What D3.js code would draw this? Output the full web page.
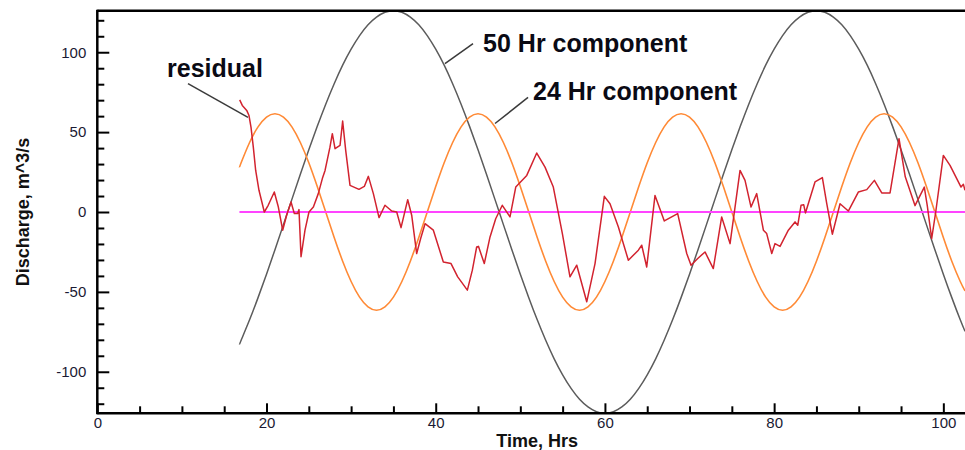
<!DOCTYPE html>
<html>
<head>
<meta charset="utf-8">
<script src="https://cdn.jsdelivr.net/npm/d3@7"></script>
<style>
  body { margin: 0; background: #fff; }
  text { font-family: "Liberation Sans", Arial, sans-serif; }
</style>
</head>
<body>
<svg id="chart" width="965" height="450"></svg>
<script>
// time axis of the two harmonic components (hours)
const hours = [16.8, 17, 18, 19, 20, 21, 22, 23, 24, 25, 26, 27, 28, 29, 30, 31, 32, 33, 34, 35,
  36, 37, 38, 39, 40, 41, 42, 43, 44, 45, 46, 47, 48, 49, 50, 51, 52, 53, 54, 55, 56, 57, 58, 59, 60,
  61, 62, 63, 64, 65, 66, 67, 68, 69, 70, 71, 72, 73, 74, 75, 76, 77, 78, 79, 80, 81, 82, 83, 84, 85,
  86, 87, 88, 89, 90, 91, 92, 93, 94, 95, 96, 97, 98, 99, 100, 101, 102, 102.56];

const comp50 = [-83, -80.3, -67.5, -53.6, -38.9, -23.6, -7.9, 7.9, 23.6, 38.9, 53.6, 67.5, 80.3, 91.9, 101.9, 110.4, 117.2, 122.0, 125.0, 126,
  125.0, 122.0, 117.2, 110.4, 101.9, 91.9, 80.3, 67.5, 53.6, 38.9, 23.6, 7.9, -7.9, -23.6, -38.9, -53.6, -67.5, -80.3, -91.9, -101.9, -110.4, -117.2, -122.0, -125.0, -126,
  -125.0, -122.0, -117.2, -110.4, -101.9, -91.9, -80.3, -67.5, -53.6, -38.9, -23.6, -7.9, 7.9, 23.6, 38.9, 53.6, 67.5, 80.3, 91.9, 101.9, 110.4, 117.2, 122.0, 125.0, 126,
  125.0, 122.0, 117.2, 110.4, 101.9, 91.9, 80.3, 67.5, 53.6, 38.9, 23.6, 7.9, -7.9, -23.6, -38.9, -53.6, -67.5,
  -74.7];

const comp24 = [27.9, 30.8, 43.5, 53.3, 59.4, 61.5,
  59.4, 53.3, 43.5, 30.8, 15.9, 0, -15.9, -30.8, -43.5, -53.3, -59.4, -61.5, -59.4, -53.3, -43.5, -30.8, -15.9, 0, 15.9, 30.8, 43.5, 53.3, 59.4, 61.5,
  59.4, 53.3, 43.5, 30.8, 15.9, 0, -15.9, -30.8, -43.5, -53.3, -59.4, -61.5, -59.4, -53.3, -43.5, -30.8, -15.9, 0, 15.9, 30.8, 43.5, 53.3, 59.4, 61.5,
  59.4, 53.3, 43.5, 30.8, 15.9, 0, -15.9, -30.8, -43.5, -53.3, -59.4, -61.5, -59.4, -53.3, -43.5, -30.8, -15.9, 0, 15.9, 30.8, 43.5, 53.3, 59.4, 61.5,
  59.4, 53.3, 43.5, 30.8, 15.9, 0, -15.9, -30.8, -43.5,
  -49.4];

// residual discharge
const residualT = [16.83, 17.14, 17.66, 17.93, 18.17, 18.44, 18.72, 19.11, 19.74, 20.2, 20.92, 21.4, 21.91, 22.38, 22.9,
  23.29, 23.68, 23.84, 24.08, 24.55, 25.02, 25.54, 26.12, 26.6, 26.92, 27.5, 27.78, 28.1, 28.69, 29.0, 29.36, 29.87,
  30.93, 31.56, 32.04, 32.63, 33.3, 34.0, 34.8, 35.39, 35.9, 36.69, 37.16, 37.75, 38.22, 38.74, 39.72, 40.9, 41.81,
  42.6, 43.74, 44.33, 44.84, 45.05, 45.74, 46.42, 47.09, 47.87, 48.78, 49.46, 50.76, 51.94, 52.92, 53.9, 54.97, 55.87,
  56.67, 57.85, 58.83, 59.93, 60.6, 61.59, 62.77, 63.95, 64.35, 64.94, 65.92, 67.02, 68.6, 69.67, 70.18, 70.97, 71.83,
  72.81, 73.8, 74.79, 75.97, 76.56, 77.27, 77.94, 78.73, 79.12, 79.72, 80.1, 80.7, 81.68, 82.47, 82.79, 83.18, 83.5,
  83.7, 84.83, 85.7, 86.22, 86.88, 87.79, 88.77, 89.95, 90.95, 91.85, 92.72, 93.7, 94.76, 95.5, 96.65, 97.75, 98.1,
  98.62, 99.1, 100.0, 100.79, 102.09, 102.37, 102.56];
const residualV = [70.2, 66.7, 63.6, 60.4, 53, 40.6, 26, 13.6, 0, 4.2, 12.5, 3.1, -11.4, -2, 6.3,
  -1, -1, 1.5, -28, -11.4, 0, 3.1, 11.5, 20.9, 26, 40.6, 49, 39.6, 41.7, 56.9, 38.6, 16.7,
  14.2, 16, 22.3, 11.5, -3.5, 4.2, 0.6, 0, -9.8, 7.7, -2, -26, -16.6, -7.3, -11.4, -31.3, -32.3,
  -40.6, -48.9, -36.4, -21.9, -21.5, -32.3, -15.6, -4.2, 4.2, -3.1, 15.6, 22.9, 36.9, 28.1, 15.6, -13.5, -40.6,
  -33.3, -56.2, -32.3, 9.8, 5.2, -9.4, -30.2, -23.9, -20.8, -34.4, 10.4, -5.6, -1, -26, -33.3, -29.1, -25,
  -35.4, -3.1, -19.8, 26, 19.8, 3.1, 11.5, -11.4, -13.5, -26, -19.8, -21.5, -11.4, -6.2, -8.3, 4.2, 4.5,
  -0.6, 18.8, 21.5, 5.2, -13.9, 5.2, 0.6, 12.5, 14, 19.8, 11.9, 11.9, 45.9, 22, 4, 15.6, 4,
  -16.6, 0, 35.4, 29.2, 15.6, 17.3, 13.6];

// zero reference line
const meanT = [16.8, 102.56];
const meanV = [0, 0];

// ticks
const xMajor = [0, 20, 40, 60, 80, 100];
const xMinor = [5, 10, 15, 25, 30, 35, 45, 50, 55, 65, 70, 75, 85, 90, 95];
const yMajor = [-100, -50, 0, 50, 100];
const yMinor = [-120, -110, -90, -80, -70, -60, -40, -30, -20, -10, 10, 20, 30, 40, 60, 70, 80, 90, 110, 120];

// annotations (data coordinates)
const labelText = ["residual", "50 Hr component", "24 Hr component"];
const labelT = [8.24, 45.6, 51.5];
const labelV = [84.8, 100.4, 70.3];
const leaderT0 = [10.72, 44.41, 50.91];
const leaderV0 = [80.4, 105.4, 71.7];
const leaderT1 = [17.81, 41.09, 47.01];
const leaderV1 = [59.2, 92.9, 55.4];

const svg = d3.select("#chart");
const plotLeft = 97.3, plotRight = 965, plotTop = 10.7, plotBottom = 413.3;

const x = d3.scaleLinear().domain([0, 102.56]).range([plotLeft, plotRight]);
const y = d3.scaleLinear().domain([-126, 126]).range([plotBottom, plotTop]);

svg.append("defs").append("clipPath").attr("id", "plotclip")
  .append("rect").attr("x", plotLeft).attr("y", plotTop)
  .attr("width", plotRight - plotLeft).attr("height", plotBottom - plotTop);

const plot = svg.append("g").attr("clip-path", "url(#plotclip)");

const smooth = d3.line().x(d => x(d[0])).y(d => y(d[1])).curve(d3.curveNatural);
const straight = d3.line().x(d => x(d[0])).y(d => y(d[1]));

plot.append("path")
  .datum(hours.map((h, i) => [h, comp50[i]]))
  .attr("fill", "none").attr("stroke", "#5c5c5c").attr("stroke-width", 1.5)
  .attr("d", smooth);

plot.append("path")
  .datum(hours.map((h, i) => [h, comp24[i]]))
  .attr("fill", "none").attr("stroke", "#ff8a36").attr("stroke-width", 1.6)
  .attr("d", smooth);

plot.append("path")
  .datum(meanT.map((t, i) => [t, meanV[i]]))
  .attr("fill", "none").attr("stroke", "#ff44ff").attr("stroke-width", 2)
  .attr("d", straight);

plot.append("path")
  .datum(residualT.map((t, i) => [t, residualV[i]]))
  .attr("fill", "none").attr("stroke", "#d2232f").attr("stroke-width", 1.5)
  .attr("stroke-linejoin", "round")
  .attr("d", straight);

// axes (plain hyphen minus, as in the original)
const fmt = d => String(d);
const yAxis = svg.append("g").attr("transform", `translate(${plotLeft},0)`);
yAxis.call(d3.axisLeft(y).tickValues(yMajor).tickSize(-12).tickPadding(11).tickFormat(fmt));
yAxis.append("g").call(d3.axisLeft(y).tickValues(yMinor).tickSize(-7).tickFormat(""));

const xAxis = svg.append("g").attr("transform", `translate(0,${plotBottom})`);
xAxis.call(d3.axisBottom(x).tickValues(xMajor).tickSize(-10).tickPadding(4).tickFormat(fmt));
xAxis.append("g").call(d3.axisBottom(x).tickValues(xMinor).tickSize(-7).tickFormat(""));

svg.selectAll(".domain").remove();
svg.selectAll(".tick line").attr("stroke", "#000").attr("stroke-width", 2);
svg.selectAll(".tick text").attr("font-size", 15).attr("fill", "#1a1a33")
  .style("font-family", "'Liberation Sans', Arial, sans-serif");

// frame
svg.append("line").attr("x1", plotLeft).attr("x2", plotLeft).attr("y1", plotTop - 1).attr("y2", plotBottom + 1)
  .attr("stroke", "#000").attr("stroke-width", 2.5);
svg.append("line").attr("x1", plotLeft).attr("x2", plotRight).attr("y1", plotBottom).attr("y2", plotBottom)
  .attr("stroke", "#000").attr("stroke-width", 2.5);
svg.append("line").attr("x1", plotLeft).attr("x2", plotRight).attr("y1", plotTop).attr("y2", plotTop)
  .attr("stroke", "#000").attr("stroke-width", 2.5);

// axis titles
svg.append("text").attr("x", (plotLeft + plotRight) / 2 + 6).attr("y", 447)
  .attr("text-anchor", "middle").attr("font-size", 18).attr("font-weight", "bold")
  .attr("fill", "#111").text("Time, Hrs");
svg.append("text").attr("transform", "translate(29,212) rotate(-90)")
  .attr("text-anchor", "middle").attr("font-size", 18).attr("font-weight", "bold")
  .attr("fill", "#111").text("Discharge, m^3/s");

// annotations
labelText.forEach((s, i) => {
  svg.append("line")
    .attr("x1", x(leaderT0[i])).attr("y1", y(leaderV0[i]))
    .attr("x2", x(leaderT1[i])).attr("y2", y(leaderV1[i]))
    .attr("stroke", "#3a3a3a").attr("stroke-width", 1.5);
  svg.append("text")
    .attr("x", x(labelT[i])).attr("y", y(labelV[i]))
    .attr("font-size", 25).attr("font-weight", "bold").attr("fill", "#0a0a14")
    .text(s);
});
</script>
</body>
</html>
